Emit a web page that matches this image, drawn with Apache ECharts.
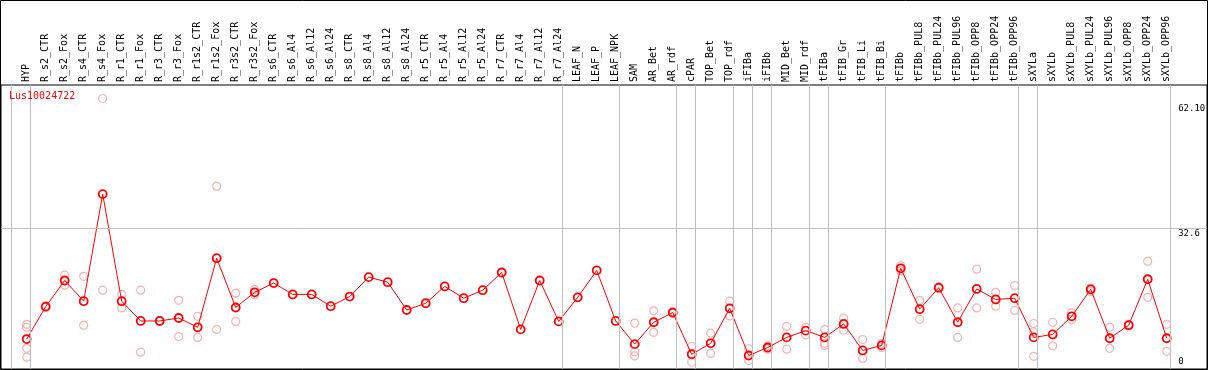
<!DOCTYPE html>
<html>
<head>
<meta charset="utf-8">
<script src="https://cdn.jsdelivr.net/npm/echarts@6/dist/echarts.min.js"></script>
<style>
  html, body { margin: 0; padding: 0; background: #fff; }
  #main { width: 1209px; height: 370px; }
</style>
</head>
<body>
<div id="main"></div>
<script>
var categories = ['HYP', 'R_s2_CTR', 'R_s2_Fox', 'R_s4_CTR', 'R_s4_Fox', 'R_r1_CTR', 'R_r1_Fox', 'R_r3_CTR', 'R_r3_Fox',
    'R_r1s2_CTR', 'R_r1s2_Fox', 'R_r3s2_CTR', 'R_r3s2_Fox', 'R_s6_CTR', 'R_s6_Al4', 'R_s6_Al12', 'R_s6_Al24',
    'R_s8_CTR', 'R_s8_Al4', 'R_s8_Al12', 'R_s8_Al24', 'R_r5_CTR', 'R_r5_Al4', 'R_r5_Al12', 'R_r5_Al24',
    'R_r7_CTR', 'R_r7_Al4', 'R_r7_Al12', 'R_r7_Al24', 'LEAF_N', 'LEAF_P', 'LEAF_NPK', 'SAM', 'AR_Bet', 'AR_rdf',
    'cPAR', 'TOP_Bet', 'TOP_rdf', 'iFIBa', 'iFIBb', 'MID_Bet', 'MID_rdf', 'tFIBa', 'tFIB_Gr', 'tFIB_Li', 'tFIB_Bi',
    'tFIBb', 'tFIBb_PUL8', 'tFIBb_PUL24', 'tFIBb_PUL96', 'tFIBb_OPP8', 'tFIBb_OPP24', 'tFIBb_OPP96',
    'sXYLa', 'sXYLb', 'sXYLb_PUL8', 'sXYLb_PUL24', 'sXYLb_PUL96', 'sXYLb_OPP8', 'sXYLb_OPP24', 'sXYLb_OPP96'];

// moyenne par condition
var means = [6.4, 14.1, 20.3, 15.4, 40.8, 15.4, 10.7, 10.7, 11.4, 9.2, 25.6, 13.9, 17.5,
    19.7, 17.0, 17.0, 14.2, 16.5, 21.1, 19.9, 13.3, 14.9, 18.9, 16.1, 18.0, 22.2, 8.7, 20.3, 10.6,
    16.3, 22.7, 10.7, 5.2, 10.4, 12.7, 2.8, 5.4, 13.7, 2.5, 4.4, 6.8, 8.4, 6.8, 10.0, 3.7, 4.9,
    23.2, 13.5, 18.6, 10.4, 18.3, 15.8, 16.1, 6.8, 7.5, 11.8, 18.2, 6.6, 9.7, 20.6, 6.6];

// replicats (vide = un seul echantillon)
var replicates = [
    [9.9, 9.2, 4.2, 2.1], [14.3, 13.9], [21.6, 19.2], [21.3, 9.7], [63.5, 18.0], [17.0, 13.8],
    [18.0, 3.3], [10.8, 10.6], [15.6, 7.0], [11.8, 6.8], [42.7, 8.7], [17.3, 10.6], [18.2, 16.9],
    [], [], [], [], [], [], [], [], [], [], [], [], [], [], [], [], [], [], [],
    [10.2, 3.4, 2.4], [13.1, 8.0], [12.9, 12.5], [4.7, 0.9], [7.8, 3.0], [15.4, 11.9], [4.1, 1.3],
    [4.8, 4.0], [9.4, 4.0], [9.2, 7.4], [8.7, 5.4, 4.9], [11.4, 8.5], [6.3, 1.8], [5.4, 4.4],
    [23.8, 22.6], [15.6, 11.1], [18.8, 18.4], [13.8, 6.8], [23.0, 13.8], [17.5, 14.2], [19.1, 13.2],
    [10.1, 8.1, 2.3], [10.4, 4.8], [12.7, 11.0], [18.5, 17.7], [9.2, 4.2], [9.9, 9.5], [24.9, 16.3], [9.9, 3.5]
];

// dernier index de chaque groupe (separateurs verticaux)
var groupEnds = [-1, 0, 28, 31, 34, 35, 37, 38, 39, 41, 42, 45, 52, 53, 60];

var yTickValues = [0, 32.6, 62.1];
var yTickLabels = ['0', '32.6', '62.10'];
var gridValue = 32.6;
var geneName = 'Lus10024722';

var repPoints = [];
replicates.forEach(function (list, i) {
    list.forEach(function (v) { repPoints.push([i, v]); });
});

var Y_MIN = -0.7, Y_MAX = 66.7;
var SEP_OFFSET = 0.21;
var monoFont = 'DejaVu Sans Mono';

var myChart = echarts.init(document.getElementById('main'));

var option = {
    animation: false,
    backgroundColor: '#ffffff',
    title: {
        text: geneName,
        left: 9,
        top: 91,
        padding: 0,
        textStyle: { color: '#ff0000', fontFamily: monoFont, fontSize: 10, fontWeight: 'normal' }
    },
    graphic: [{
        type: 'rect',
        shape: { x: 0.5, y: 0.5, width: 1207, height: 369 },
        style: { fill: null, stroke: '#000', lineWidth: 1 },
        silent: true
    }],
    grid: [
        { left: 17.2, right: 32.8, top: 85, bottom: 1 },
        { left: 1, right: 2, top: 85, bottom: 1, show: true, borderColor: '#000', borderWidth: 1, backgroundColor: 'transparent' }
    ],
    xAxis: [{
        type: 'category',
        gridIndex: 0,
        position: 'top',
        data: categories,
        boundaryGap: true,
        axisLine: { show: false },
        axisTick: { show: false },
        splitLine: { show: false },
        axisLabel: {
            interval: 0,
            rotate: 90,
            margin: 3,
            color: '#000',
            fontFamily: monoFont,
            fontSize: 10
        }
    }, {
        type: 'value',
        gridIndex: 1,
        min: -1.3526,
        max: 62.12,
        show: false,
        splitLine: { show: false }
    }],
    yAxis: [{
        type: 'value',
        gridIndex: 0,
        position: 'right',
        min: Y_MIN,
        max: Y_MAX,
        axisLine: { show: false },
        axisTick: { show: false },
        splitLine: { show: false },
        axisLabel: {
            customValues: yTickValues,
            margin: 2,
            color: '#000',
            fontFamily: monoFont,
            fontSize: 9,
            verticalAlign: 'top',
            verticalAlignMinLabel: 'bottom',
            formatter: function (v) {
                var idx = yTickValues.indexOf(v);
                return idx >= 0 ? yTickLabels[idx] : '';
            }
        }
    }, {
        type: 'value',
        gridIndex: 1,
        min: Y_MIN,
        max: Y_MAX,
        show: false,
        splitLine: { show: false }
    }],
    series: [{
        // separateurs et ligne de grille
        type: 'line',
        xAxisIndex: 1,
        yAxisIndex: 1,
        data: [],
        z: 1,
        markLine: {
            silent: true,
            symbol: ['none', 'none'],
            label: { show: false },
            lineStyle: { color: '#c0c0c0', width: 1, type: 'solid' },
            data: groupEnds.map(function (g) { return { xAxis: g + SEP_OFFSET }; })
                .concat([{ yAxis: gridValue }])
        }
    }, {
        name: 'replicates',
        type: 'scatter',
        xAxisIndex: 0,
        yAxisIndex: 0,
        data: repPoints,
        symbol: 'circle',
        symbolSize: 8,
        z: 2,
        itemStyle: { color: 'transparent', borderColor: '#f0a0a0', borderWidth: 1.2 }
    }, {
        name: geneName,
        type: 'line',
        xAxisIndex: 0,
        yAxisIndex: 0,
        data: means,
        symbol: 'circle',
        symbolSize: 8,
        showAllSymbol: true,
        z: 3,
        lineStyle: { color: '#ff0000', width: 1 },
        itemStyle: { color: 'transparent', borderColor: '#ff0000', borderWidth: 1.8 }
    }]
};

myChart.setOption(option);
</script>
</body>
</html>
